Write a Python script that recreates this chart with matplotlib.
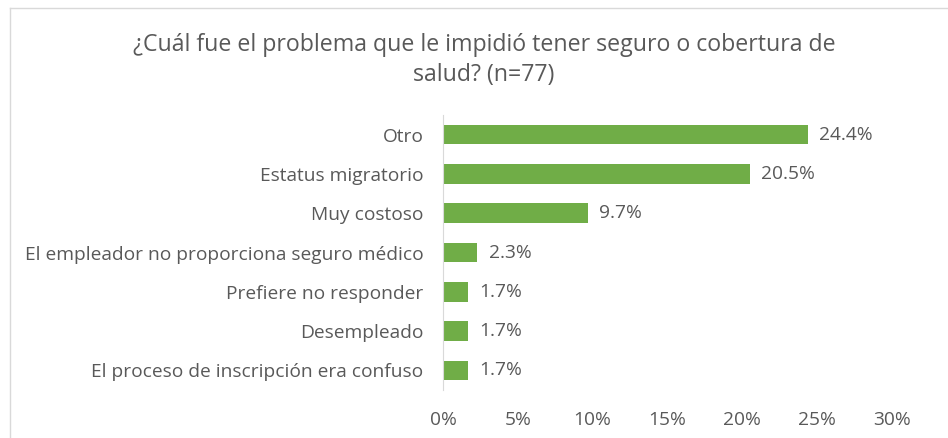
import matplotlib
matplotlib.use('Agg')
import matplotlib.pyplot as plt
from matplotlib.lines import Line2D
from matplotlib.ticker import FuncFormatter

categories = ["Otro", "Estatus migratorio", "Muy costoso",
              "El empleador no proporciona seguro médico",
              "Prefiere no responder", "Desempleado",
              "El proceso de inscripción era confuso"]
values = [24.4, 20.5, 9.7, 2.3, 1.7, 1.7, 1.7]
title = "¿Cuál fue el problema que le impidió tener seguro o cobertura de\nsalud? (n=77)"

plt.rcParams['font.family'] = ['Open Sans', 'DejaVu Sans']
txt = '#595959'
green = '#70AD47'

fig = plt.figure(figsize=(9.48, 4.38), dpi=100)
ax = fig.add_axes([443/948, 1-390/438, (892-443)/948, (390-115)/438])

y = list(range(len(categories)))[::-1]
ax.barh(y, values, height=0.5, color=green)
for yi, v in zip(y, values):
    ax.text(v + 0.75, yi, f"{v:.1f}%", va='center', ha='left', fontsize=13.8, color=txt)

ax.set_xlim(0, 30)
ax.set_ylim(-0.5, len(categories) - 0.5)
ax.set_xticks(range(0, 31, 5))
ax.xaxis.set_major_formatter(FuncFormatter(lambda v, p: f"{v:.0f}%"))
ax.set_yticks(y)
ax.set_yticklabels(categories)
ax.tick_params(axis='both', length=0, labelsize=13.8, colors=txt)
ax.tick_params(axis='x', pad=15)
ax.tick_params(axis='y', pad=14)
for s in ['top', 'right', 'bottom']:
    ax.spines[s].set_visible(False)
ax.spines['left'].set_color('#D9D9D9')

fig.text(484/948, 1-60/438, title, ha='center', va='center', fontsize=16.7,
         color=txt, linespacing=1.38)

# chart border
fig.add_artist(Line2D([10/948, 10/948], [0, 1-8/438], color='#D9D9D9', lw=1))
fig.add_artist(Line2D([10/948, 1], [1-8/438, 1-8/438], color='#D9D9D9', lw=1))

fig.savefig('out.png', dpi=100)
